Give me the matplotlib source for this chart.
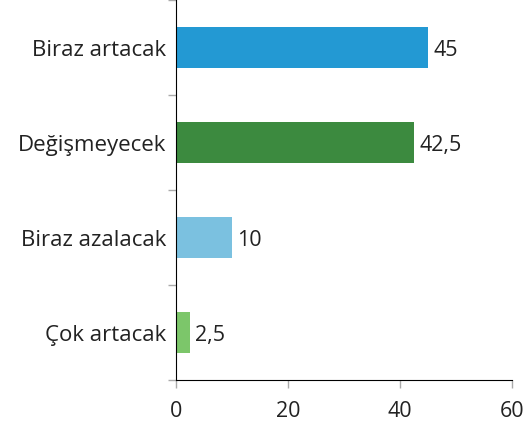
import numpy as np
import matplotlib.pyplot as plt
from matplotlib.ticker import FixedLocator

categories = ['Biraz artacak', 'Değişmeyecek', 'Biraz azalacak', 'Çok artacak']
values = [45, 42.5, 10, 2.5]
labels = ['45', '42,5', '10', '2,5']
colors = ['#2399D3', '#3C8A3F', '#7BC1E0', '#7CC66A']
xticks = [0, 20, 40, 60]

plt.rcParams['font.family'] = ['Open Sans', 'DejaVu Sans']

fig = plt.figure(figsize=(5.26, 4.32), dpi=100)
ax = fig.add_axes([176 / 526, 52 / 432, 336 / 526, 380 / 432])

y = np.arange(len(categories))[::-1]
ax.barh(y, values, height=0.44, color=colors)
for yi, v, lab in zip(y, values, labels):
    ax.text(v + 0.9, yi - 0.03, lab, va='center', ha='left', fontsize=15.5, color='#222222')

ax.set_xlim(0, 60)
ax.set_ylim(-0.5, len(categories) - 0.5)
ax.set_xticks(xticks)
ax.set_xticklabels([str(t) for t in xticks], fontsize=15.5, color='#222222')
ax.set_yticks(y)
ax.set_yticklabels(categories, fontsize=16, color='#222222')
ax.tick_params(axis='y', which='major', length=0, pad=7)
ax.yaxis.set_minor_locator(FixedLocator(np.arange(-0.5, len(categories), 1)))
ax.tick_params(axis='y', which='minor', length=6, color='#aaaaaa', width=1)
ax.tick_params(axis='x', length=6, color='#aaaaaa', width=1, pad=9)

for s in ['top', 'right']:
    ax.spines[s].set_visible(False)
ax.spines['left'].set_color('black')
ax.spines['bottom'].set_color('black')

fig.savefig('out.png', dpi=100)
